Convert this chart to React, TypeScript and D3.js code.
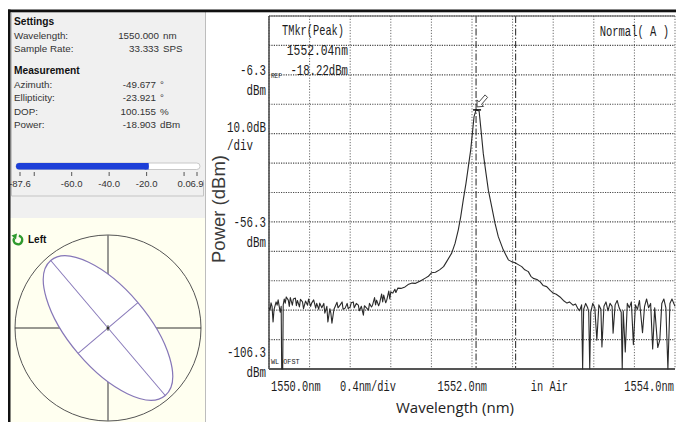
import React from "react";
import * as d3 from "d3";

// ---- polarimeter readout (left panel) ----
const settingsRows = [
  { label: "Wavelength:", value: "1550.000", unit: "nm" },
  { label: "Sample Rate:", value: "33.333", unit: "SPS" },
];
const measurementRows = [
  { label: "Azimuth:", value: "-49.677", unit: "°" },
  { label: "Ellipticity:", value: "-23.921", unit: "°" },
  { label: "DOP:", value: "100.155", unit: "%" },
  { label: "Power:", value: "-18.903", unit: "dBm" },
];
const powerRange = [-87.6, 6.9];
const powerReading = -18.903;
const sliderTicks = [-87.6, -80, -60, -40, -20, 0, 6.9];
const sliderTickLabels = ["-87.6", "", "-60.0", "-40.0", "-20.0", "0.0", "6.9"];
const azimuthDeg = -49.677;
const ellipticityDeg = -23.921;

// ---- OSA screen (right panel) ----
const wlRange = [1550.0, 1554.0];
const wlPerDiv = 0.4;
const refLevel = -6.3;
const dbPerDiv = 10;
const levelLabels = ["-6.3", "-56.3", "-106.3"];
const levelValues = [-6.3, -56.3, -106.3];
const xLabels = ["1550.0nm", "0.4nm/div", "1552.0nm", "in Air", "1554.0nm"];
const xLabelAt = [1550.02, 1550.7, 1551.66, 1552.58, 1553.5];
const markerWls = [1552.04, 1552.43];
const peak: [number, number] = [1552.04, -18.22];

// trace: [wavelength nm, level dBm]
const trace: [number, number][] = [
  [1550.0, -85.5], [1550.01, -86.3], [1550.02, -83.8], [1550.03, -85.0], [1550.04, -90.3],
  [1550.05, -86.0], [1550.07, -83.5], [1550.08, -84.6], [1550.09, -82.8], [1550.11, -87.0],
  [1550.12, -85.0], [1550.125, -106.3], [1550.135, -106.3], [1550.14, -84.5], [1550.15, -82.5],
  [1550.16, -83.9], [1550.17, -81.8], [1550.19, -82.9], [1550.2, -85.0], [1550.21, -82.0],
  [1550.23, -84.6], [1550.24, -82.5], [1550.26, -82.2], [1550.27, -84.8], [1550.28, -83.0],
  [1550.3, -85.2], [1550.31, -82.6], [1550.33, -83.5], [1550.34, -85.8], [1550.36, -83.2],
  [1550.38, -84.6], [1550.39, -82.5], [1550.41, -85.0], [1550.42, -83.9], [1550.44, -82.8],
  [1550.46, -85.6], [1550.47, -84.0], [1550.49, -86.0], [1550.5, -83.9], [1550.52, -85.5],
  [1550.54, -84.0], [1550.55, -87.3], [1550.57, -85.0], [1550.58, -90.3], [1550.6, -85.8],
  [1550.61, -87.5], [1550.62, -90.7], [1550.64, -86.0], [1550.65, -85.2], [1550.67, -83.6],
  [1550.68, -85.5], [1550.7, -84.6], [1550.72, -83.5], [1550.73, -86.0], [1550.75, -85.6],
  [1550.77, -84.0], [1550.78, -85.8], [1550.8, -85.2], [1550.81, -83.8], [1550.83, -83.5],
  [1550.84, -85.5], [1550.86, -84.0], [1550.88, -84.6], [1550.89, -86.5], [1550.91, -85.0],
  [1550.93, -88.0], [1550.94, -84.8], [1550.96, -85.5], [1550.98, -86.3], [1550.99, -84.0],
  [1551.01, -85.2], [1551.02, -84.6], [1551.04, -82.0], [1551.05, -84.5], [1551.06, -82.9],
  [1551.08, -84.8], [1551.09, -83.9], [1551.11, -80.8], [1551.12, -83.5], [1551.13, -81.2],
  [1551.15, -83.8], [1551.16, -82.9], [1551.18, -79.8], [1551.19, -82.5], [1551.2, -80.1],
  [1551.22, -80.5], [1551.24, -79.2], [1551.25, -80.3], [1551.27, -78.8], [1551.3, -78.9],
  [1551.34, -78.4], [1551.37, -77.6], [1551.41, -77.1], [1551.44, -77.2], [1551.47, -76.7],
  [1551.5, -76.2], [1551.54, -75.4], [1551.57, -74.8], [1551.6, -73.6], [1551.64, -73.4],
  [1551.68, -72.6], [1551.72, -71.5], [1551.75, -69.8], [1551.8, -66.9], [1551.833, -63.6],
  [1551.865, -59.0], [1551.889, -54.5], [1551.914, -48.8], [1551.941, -43.1], [1551.964, -37.5],
  [1551.987, -31.9], [1552.007, -25.1], [1552.02, -20.5], [1552.04, -18.22], [1552.07, -18.6],
  [1552.089, -25.1], [1552.111, -33.0], [1552.138, -39.8], [1552.161, -45.5], [1552.194, -51.1],
  [1552.227, -56.8], [1552.259, -61.3], [1552.308, -65.8], [1552.358, -69.2], [1552.39, -69.8],
  [1552.424, -70.2], [1552.46, -70.9], [1552.49, -71.5], [1552.52, -72.6], [1552.555, -73.2],
  [1552.58, -74.8], [1552.604, -75.5], [1552.64, -75.9], [1552.67, -76.6], [1552.7, -77.9],
  [1552.736, -78.3], [1552.77, -79.6], [1552.8, -80.5], [1552.83, -80.9], [1552.867, -81.8],
  [1552.9, -83.0], [1552.936, -83.9], [1552.96, -83.5], [1552.995, -84.6], [1553.02, -84.2],
  [1553.04, -85.6], [1553.06, -86.5], [1553.08, -84.5], [1553.09, -106.3], [1553.1, -86.0],
  [1553.12, -84.0], [1553.14, -85.5], [1553.15, -87.0], [1553.16, -106.3], [1553.17, -87.0],
  [1553.19, -84.0], [1553.21, -85.5], [1553.23, -96.5], [1553.25, -84.5], [1553.27, -86.0],
  [1553.28, -98.8], [1553.3, -85.0], [1553.32, -83.5], [1553.34, -86.5], [1553.36, -84.0],
  [1553.38, -85.0], [1553.39, -94.1], [1553.41, -84.5], [1553.43, -83.0], [1553.45, -85.5],
  [1553.47, -87.0], [1553.48, -106.3], [1553.49, -86.5], [1553.51, -100.5], [1553.53, -84.0],
  [1553.55, -85.5], [1553.57, -83.5], [1553.59, -98.0], [1553.61, -84.5], [1553.63, -86.0],
  [1553.65, -83.0], [1553.68, -94.0], [1553.7, -85.0], [1553.72, -82.5], [1553.74, -85.5],
  [1553.76, -84.0], [1553.78, -99.5], [1553.8, -85.5], [1553.83, -99.0], [1553.85, -96.5],
  [1553.87, -84.0], [1553.89, -82.5], [1553.91, -85.5], [1553.93, -106.3], [1553.95, -84.0],
  [1553.97, -82.5], [1554.0, -85.0],
];

const UI_FONT = "'Liberation Sans', Arial, sans-serif";
const OSA_FONT = "'Liberation Mono', 'DejaVu Sans Mono', monospace";

// narrow screen font: mono glyphs squeezed to the OSA character pitch
function OsaText({ x, y, text, anchor = "start", size = 14, ch = 6.4 }: any) {
  const len = text.length * ch;
  const x0 = anchor === "end" ? x - len : anchor === "middle" ? x - len / 2 : x;
  const sx = ch / (size * 0.6);
  return (
    <text transform={`translate(${x0},${y}) scale(${sx},1)`} fontFamily={OSA_FONT}
      fontSize={size} fill="#1c1c1c">
      {text}
    </text>
  );
}

function LeftPanel() {
  const s = d3.scaleLinear().domain(powerRange).range([20, 197]);
  const cx = 108, cy = 328, R = 93;
  const major = 88.5;
  const minor = major * Math.tan(Math.abs(ellipticityDeg) * Math.PI / 180);
  const rot = -azimuthDeg;
  const icon = d3.arc()({ innerRadius: 3, outerRadius: 5.5, startAngle: 0.2, endAngle: 2 * Math.PI - 1.1 } as any);

  return (
    <g fontFamily={UI_FONT}>
      <rect x={10} y={12} width={195} height={206} fill="#f0f0f0" />
      <rect x={10} y={218} width={195} height={204} fill="#fffff0" />
      <path d="M11.5,13 V196 H203.5 V180" fill="none" stroke="#c4c4c4" />

      <text x={14} y={24.5} fontSize={10.2} fontWeight="bold" fill="#111">Settings</text>
      {settingsRows.map((r, i) => (
        <g key={r.label} fontSize={9.8} fill="#333">
          <text x={14} y={38.5 + i * 13.5}>{r.label}</text>
          <text x={159} y={38.5 + i * 13.5} textAnchor="end">{r.value}</text>
          <text x={163} y={38.5 + i * 13.5}>{r.unit}</text>
        </g>
      ))}
      <text x={14} y={74} fontSize={10.2} fontWeight="bold" fill="#111">Measurement</text>
      {measurementRows.map((r, i) => (
        <g key={r.label} fontSize={9.8} fill="#333">
          <text x={14} y={87.5 + i * 13.5}>{r.label}</text>
          <text x={156} y={87.5 + i * 13.5} textAnchor="end">{r.value}</text>
          <text x={160} y={87.5 + i * 13.5}>{r.unit}</text>
        </g>
      ))}

      {/* power slider */}
      <rect x={16} y={163} width={184} height={6.5} rx={3.2} fill="#fff" stroke="#c8c8c8" />
      <rect x={16} y={163} width={s(powerReading) - 16} height={6.5} rx={3.2} fill="#1d3fd8" />
      <rect x={s(powerReading) - 4} y={163} width={4} height={6.5} fill="#1d3fd8" />
      {sliderTicks.map((t, i) => (
        <g key={i}>
          <line x1={s(t)} x2={s(t)} y1={172} y2={176} stroke="#555" />
          <text x={s(t)} y={186.5} fontSize={9.5} textAnchor="middle" fill="#333">
            {sliderTickLabels[i]}
          </text>
        </g>
      ))}

      {/* polarization ellipse */}
      <path d={icon as string} transform="translate(18,240)" fill="#2f9a2f" />
      <path d="M11.5,235.5 L17,233.5 L16,239.5 Z" fill="#2f9a2f" />
      <text x={28} y={243} fontSize={10} fontWeight="bold" fill="#111">Left</text>
      <circle cx={cx} cy={cy} r={R} fill="none" stroke="#555" strokeWidth={1} />
      <line x1={cx - R} x2={cx + R} y1={cy} y2={cy} stroke="#333" />
      <line x1={cx} x2={cx} y1={cy - R} y2={cy + R} stroke="#777" strokeWidth={1.5} />
      <g transform={`translate(${cx},${cy}) rotate(${rot})`}>
        <ellipse rx={major} ry={minor} fill="#fff" stroke="#8677b8" strokeWidth={1.2} />
        <line x1={-major} x2={major} y1={0} y2={0} stroke="#8677b8" />
        <line x1={0} x2={0} y1={-minor} y2={minor} stroke="#8677b8" />
      </g>
      <line x1={cx} x2={cx} y1={cy - 3} y2={cy + 3} stroke="#555" strokeWidth={1.5} opacity={0.6} />
      <circle cx={cx} cy={cy} r={1.5} fill="#333" />
    </g>
  );
}

function OsaPanel() {
  const plot = { left: 269, right: 675, top: 16, bottom: 369 };
  const yTop = refLevel + 2 * dbPerDiv;
  const yBottom = refLevel - 10 * dbPerDiv;
  const x = d3.scaleLinear().domain(wlRange).range([plot.left, plot.right]);
  const y = d3.scaleLinear().domain([yBottom, yTop]).range([plot.bottom, plot.top]);
  const xGrid = d3.range(0, 11).map((i) => wlRange[0] + i * wlPerDiv);
  const yGrid = d3.range(0, 13).map((i) => yBottom + i * dbPerDiv);
  const line = d3
    .line<[number, number]>()
    .x((d) => x(d[0]))
    .y((d) => y(Math.max(d[1], yBottom)));
  const px = x(peak[0]);
  const py = y(peak[1]);

  return (
    <g>
      <rect x={206} y={12} width={470} height={410} fill="#fff" />
      <line x1={205.5} x2={205.5} y1={12} y2={422} stroke="#bdbdbd" />

      {xGrid.map((w, i) => (
        <line key={"vx" + i} x1={x(w)} x2={x(w)} y1={plot.top} y2={plot.bottom}
          stroke="#6a6a6a" strokeDasharray="1.2,1.6" />
      ))}
      {yGrid.map((v, i) => (
        <line key={"hy" + i} x1={plot.left} x2={plot.right} y1={y(v)} y2={y(v)}
          stroke="#4a4a4a" strokeDasharray="1.2,1.2" strokeWidth={1.2} />
      ))}
      {markerWls.map((w) => (
        <line key={w} x1={x(w)} x2={x(w)} y1={plot.top} y2={plot.bottom}
          stroke="#222" strokeDasharray="7,2,1.5,2" />
      ))}
      <line x1={plot.left} x2={plot.right} y1={plot.top} y2={plot.top} stroke="#555" strokeWidth={1.2} />
      <line x1={plot.left} x2={plot.left} y1={plot.top} y2={plot.bottom} stroke="#444" strokeWidth={1.5} />
      <line x1={plot.left} x2={plot.right} y1={plot.bottom} y2={plot.bottom} stroke="#555" strokeWidth={2} />

      <path d={line(trace) as string} fill="none" stroke="#2a2a2a" strokeWidth={1.1} strokeLinejoin="round" />

      {/* peak marker */}
      <line x1={px - 3} x2={px + 5} y1={py} y2={py} stroke="#111" strokeWidth={1.5} />
      <path d={`M${px + 1},${py - 3} l0,-7 l2,2 l6,-7 l2.5,2.5 l-6,7 l2,2 z`} fill="#fff" stroke="#333" strokeWidth={0.9} />

      {/* screen annotations */}
      <OsaText x={282} y={35} text="TMkr(Peak)" ch={6.2} />
      <OsaText x={348} y={55} text="1552.04nm" anchor="end" ch={6.8} />
      <OsaText x={348} y={75} text="-18.22dBm" anchor="end" ch={6.4} />
      <OsaText x={669} y={36} text="Normal( A )" anchor="end" ch={6.3} />
      <OsaText x={271} y={78} text="REF" size={7} ch={3.6} />
      <OsaText x={271} y={364} text="WL OFST" size={8} ch={4.1} />

      {levelLabels.map((t, i) => (
        <g key={t}>
          <OsaText x={266} y={y(levelValues[i]) + (i === 0 ? 0 : i === 1 ? 5 : -12)} text={t} anchor="end" ch={6.5} />
          <OsaText x={266} y={y(levelValues[i]) + (i === 0 ? 20 : i === 1 ? 25 : 8)} text="dBm" anchor="end" ch={6.5} />
        </g>
      ))}
      <OsaText x={266} y={132} text="10.0dB" anchor="end" ch={6.5} />
      <OsaText x={227} y={150} text="/div" ch={6.5} />

      {xLabels.map((t, i) => (
        <OsaText key={t} x={x(xLabelAt[i])} y={391} text={t} ch={6.2} />
      ))}

      <text transform="translate(224.5,209) rotate(-90)" textAnchor="middle" fontFamily={UI_FONT}
        fontSize={18.5} fill="#3a3a3a">
        Power (dBm)
      </text>
      <text x={455} y={413} textAnchor="middle" fontFamily="'Open Sans', sans-serif" fontSize={15} fill="#222">
        Wavelength (nm)
      </text>
    </g>
  );
}

export default function App() {
  return (
    <svg width={676} height={422} viewBox="0 0 676 422"
      style={{ position: "absolute", left: 0, top: 0, display: "block", background: "#fff" }}>
      <LeftPanel />
      <OsaPanel />
      <rect x={8} y={9.5} width={668} height={2.8} fill="#111" />
      <rect x={8} y={9.5} width={2.5} height={413} fill="#111" />
    </svg>
  );
}
